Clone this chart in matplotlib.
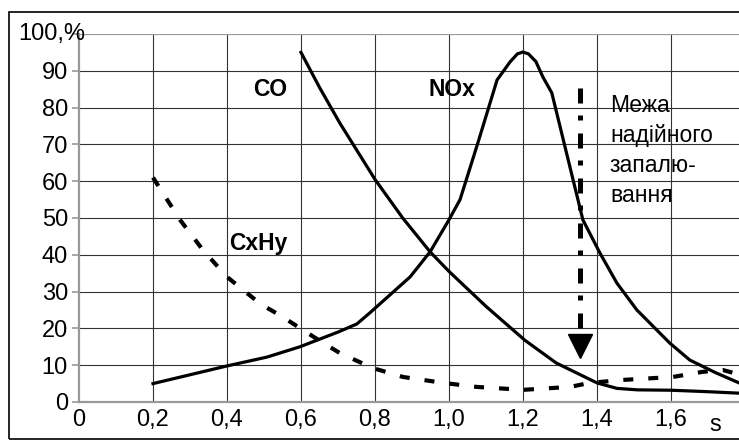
import matplotlib.pyplot as plt
from matplotlib.patches import Rectangle

plt.rcParams['font.family'] = ['Liberation Sans', 'DejaVu Sans']

# CO curve
co_x = [0.6, 0.65, 0.705, 0.8, 0.875, 0.949, 1.0, 1.1, 1.205, 1.29, 1.4, 1.454, 1.51, 1.6, 1.7, 1.784]
co_y = [95.0, 85.5, 75.8, 60.5, 50.0, 40.8, 35.5, 26.0, 16.8, 10.6, 5.2, 3.7, 3.3, 3.2, 2.8, 2.4]

# NOx curve
nox_x = [0.2, 0.4, 0.508, 0.597, 0.7, 0.751, 0.787, 0.895, 0.949, 1.0, 1.03, 1.08, 1.13,
         1.165, 1.185, 1.2, 1.215, 1.235, 1.254, 1.278, 1.362, 1.408, 1.454, 1.508, 1.597,
         1.651, 1.72, 1.784]
nox_y = [5.0, 9.8, 12.2, 15.0, 19.0, 21.2, 24.3, 34.0, 40.8, 49.5, 55.0, 71.0, 87.5,
         92.4, 94.6, 95.1, 94.6, 92.5, 88.3, 84.0, 49.5, 40.5, 32.3, 25.0, 16.0,
         11.4, 8.0, 5.2]

# CxHy curve
cxhy_x = [0.2, 0.273, 0.335, 0.4, 0.449, 0.494, 0.543, 0.597, 0.656, 0.705, 0.764, 0.795,
          0.876, 0.984, 1.075, 1.2, 1.327, 1.381, 1.47, 1.605, 1.686, 1.74, 1.784]
cxhy_y = [61.0, 49.5, 41.3, 34.0, 30.0, 26.4, 23.6, 20.1, 16.3, 13.3, 10.6, 9.2,
          6.8, 5.2, 4.1, 3.3, 4.1, 5.2, 6.0, 6.8, 8.2, 8.7, 7.5]

x_ticks = [0, 0.2, 0.4, 0.6, 0.8, 1.0, 1.2, 1.4, 1.6]
x_labels = ['0', '0,2', '0,4', '0,6', '0,8', '1,0', '1,2', '1,4', '1,6']
y_ticks = [0, 10, 20, 30, 40, 50, 60, 70, 80, 90, 100]

limit_x = 1.354
limit_top = 85.3
limit_bottom = 19.0

fig = plt.figure(figsize=(7.39, 4.41), dpi=100)
ax = fig.add_axes([79 / 739, 39 / 441, 660 / 739, 368 / 441])
ax.set_xlim(0, 1.784)
ax.set_ylim(0, 100)

# grid
for v in x_ticks[1:]:
    ax.plot([v, v], [0, 100], color='#333333', lw=0.8, zorder=1)
for v in y_ticks[1:-1]:
    ax.axhline(v, color='#333333', lw=0.8, zorder=1)
ax.axhline(100, color='#999999', lw=1.6, zorder=1)

for s in ['top', 'right']:
    ax.spines[s].set_visible(False)
for s in ['left', 'bottom']:
    ax.spines[s].set_color('#999999')
    ax.spines[s].set_linewidth(1.6)

ax.set_xticks(x_ticks)
ax.set_xticklabels(x_labels, fontsize=17)
ax.set_yticks(y_ticks)
ax.set_yticklabels([str(v) for v in y_ticks[:-1]] + [''], fontsize=17)
ax.tick_params(axis='x', length=0, pad=5)
ax.tick_params(axis='y', length=5, width=1.2, color='#999999', pad=3)

ax.plot(co_x, co_y, color='black', lw=2.3, zorder=3)
ax.plot(nox_x, nox_y, color='black', lw=2.3, zorder=3)
ax.plot(cxhy_x, cxhy_y, color='black', lw=3.0, ls=(0, (2.4, 3.6)),
        dash_capstyle='butt', zorder=3)

# ignition limit arrow
ax.plot([limit_x, limit_x], [limit_top, limit_bottom], color='black', lw=3.6,
        ls=(0, (3, 2.4, 1, 2.6)), dash_capstyle='butt', zorder=4)
ax.plot(limit_x, 15.2, marker='v', color='black', ms=17, zorder=4)

ax.text(0.516, 84.8, 'CO', fontsize=16.5, fontweight='bold', ha='center', va='center')
ax.text(1.008, 84.8, 'NOx', fontsize=16.5, fontweight='bold', ha='center', va='center')
ax.text(0.485, 43.2, 'CxHy', fontsize=16.5, fontweight='bold', ha='center', va='center')
ax.text(1.435, 83.8, 'Межа\nнадійного\nзапалю-\nвання', fontsize=16.5,
        ha='left', va='top', linespacing=1.4)
ax.text(1.72, -3.2, 's', fontsize=17, ha='center', va='top')

fig.text(18 / 739, 1 - 34 / 441, '100,%', fontsize=17, ha='left', va='center')

fig.patches.append(Rectangle((9 / 739, 2 / 441), 740 / 739, 427 / 441,
                             transform=fig.transFigure, fill=False,
                             edgecolor='black', lw=1.2))

fig.savefig('out.png', dpi=100)
